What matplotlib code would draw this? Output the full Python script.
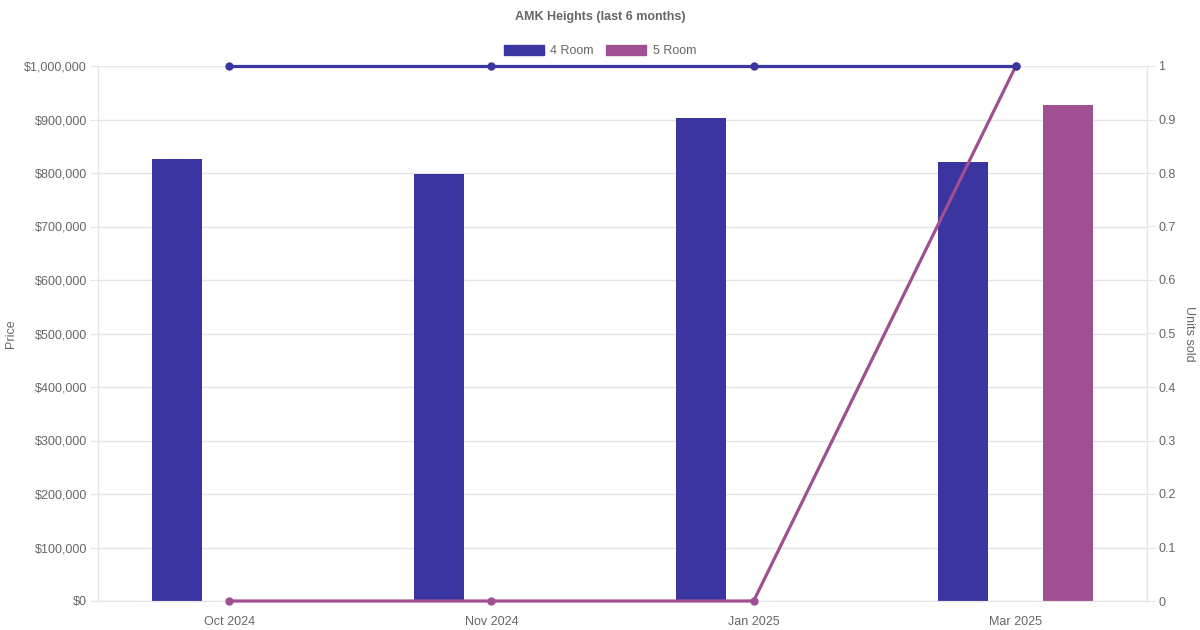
import matplotlib
matplotlib.use("Agg")
import matplotlib.pyplot as plt
from matplotlib.patches import Patch
from matplotlib.ticker import FuncFormatter, MultipleLocator
import numpy as np

plt.rcParams['font.family'] = ['Liberation Sans', 'DejaVu Sans']

months = ['Oct 2024', 'Nov 2024', 'Jan 2025', 'Mar 2025']
price_4room = [826000, 798000, 903000, 821000]
price_5room = [0, 0, 0, 927000]
units_4room = [1, 1, 1, 1]
units_5room = [0, 0, 0, 1]

c4 = '#3a35a0'
c5 = '#a05092'
txt = '#666666'
grid = '#e5e5e5'

fig = plt.figure(figsize=(12, 6.3), dpi=100)
ax = fig.add_axes([98 / 1200, 29 / 630, 1049 / 1200, 535 / 630])
ax2 = ax.twinx()

x = np.arange(len(months))
w = 50 / 262.25
off = 52.4 / 262.25
ax.bar(x - off, price_4room, width=w, color=c4, zorder=2)
ax.bar(x + off, price_5room, width=w, color=c5, zorder=2)

ax2.plot(x, units_5room, color=c5, lw=2.3, marker='o', ms=5, zorder=3,
         clip_on=False)
ax2.plot(x, units_4room, color=c4, lw=2.3, marker='o', ms=5, zorder=4,
         clip_on=False)

ax.set_xlim(-0.5, 3.5)
ax.set_ylim(0, 1000000)
ax2.set_ylim(0, 1)
ax.set_xticks(x)
ax.set_xticklabels(months)
ax.yaxis.set_major_locator(MultipleLocator(100000))
ax.yaxis.set_major_formatter(FuncFormatter(lambda v, p: '${:,.0f}'.format(v)))
ax2.yaxis.set_major_locator(MultipleLocator(0.1))
ax2.yaxis.set_major_formatter(FuncFormatter(lambda v, p: '{:g}'.format(round(v, 1))))

ax.grid(axis='y', color=grid, lw=1, zorder=0)
ax.set_axisbelow(True)
for a in (ax, ax2):
    for s in a.spines.values():
        s.set_color(grid)
    a.spines['top'].set_visible(False)
ax.spines['bottom'].set_color('#cccccc')
ax.tick_params(axis='y', colors=grid, labelcolor=txt, labelsize=9, length=6, pad=2)
ax.tick_params(axis='x', length=0, labelcolor=txt, labelsize=9, pad=11)
ax2.tick_params(axis='y', colors=grid, labelcolor=txt, labelsize=9, length=6, pad=2)

ax.set_ylabel('Price', color=txt, fontsize=9, va='center')
ax.yaxis.set_label_coords((11 - 98) / 1049, 0.5)
ax2.set_ylabel('Units sold', color=txt, fontsize=9, rotation=270, va='center')
ax2.yaxis.set_label_coords((1189 - 98) / 1049, 0.5)

fig.text(0.5, 1 - 17 / 630, 'AMK Heights (last 6 months)', ha='center', va='center',
         fontsize=9, fontweight='bold', color=txt)
handles = [Patch(color=c4, label='4 Room'), Patch(color=c5, label='5 Room')]
fig.legend(handles=handles, loc='center', bbox_to_anchor=(0.5, 1 - 51 / 630),
           ncol=2, frameon=False, fontsize=9, labelcolor=txt,
           handlelength=3.2, handleheight=0.95, handletextpad=0.5, columnspacing=1.0)

fig.savefig('out.png', dpi=100)
